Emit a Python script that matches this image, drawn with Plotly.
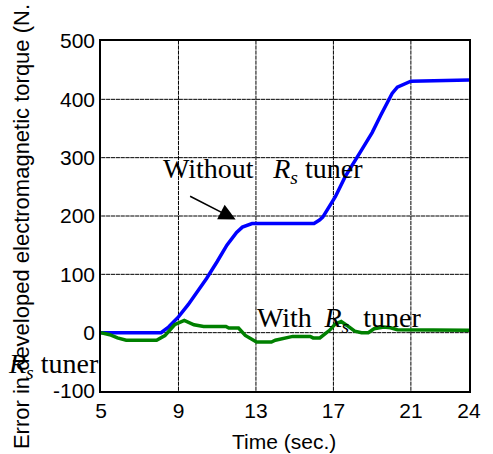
import numpy as np
import plotly.graph_objects as go

# Blue: without Rs tuner
t_without = [5, 8.1, 8.5, 9, 9.5, 10, 10.45, 11, 11.5, 12, 12.3, 12.8, 16.0, 16.28, 16.45, 17.1, 17.6, 18.45, 19.0, 19.45, 20.03, 20.3, 20.6, 21.0, 24]
e_without = [0, 0, 10, 27, 48, 71, 93, 122, 150, 172, 181, 187, 187, 193, 198, 233, 267, 313, 343, 373, 410, 421, 426, 431, 433]

# Green: with Rs tuner
t_with = [5, 5.45, 5.85, 6.3, 7.87, 8.3, 8.8, 9.3, 9.8, 10.3, 11.45, 11.6, 12.1, 12.45, 13.03, 13.8, 14.0, 14.45, 14.9, 15.8, 15.95, 16.3, 16.8, 17.1, 17.4, 17.7, 18.1, 18.45, 18.8, 19.1, 19.6, 19.95, 20.3, 24]
e_with = [0, -3.5, -9, -13, -13, -5, 13.6, 21, 13.6, 10.7, 10.7, 8, 8, -4.7, -16, -16, -13, -10, -6.4, -6.4, -9, -9, 4, 15, 19, 12.4, 2.7, 0, 0, 6.7, 9.5, 8.5, 5, 4]

x_ticks = [5, 9, 13, 17, 21, 24]
y_ticks = [-100, 0, 100, 200, 300, 400, 500]
x_range = [5, 24]
y_range = [-100, 500]

fig = go.Figure()

# dotted grid emulated with short dash markers along the tick positions
x_inner = [v for v in x_ticks if x_range[0] < v < x_range[1]]
y_inner = [v for v in y_ticks if y_range[0] < v < y_range[1]]
ys_along = np.arange(y_range[0] + 4, y_range[1], 8.6)
xs_along = np.arange(x_range[0] + 0.12, x_range[1], 0.25)
vx, vy = [], []
for xv in x_inner:
    vx += [xv] * len(ys_along)
    vy += list(ys_along)
hx, hy = [], []
for yv in y_inner:
    hx += list(xs_along)
    hy += [yv] * len(xs_along)
fig.add_trace(go.Scatter(x=vx, y=vy, mode="markers", hoverinfo="skip", showlegend=False,
                         marker=dict(symbol="line-ns-open", size=3, color="black",
                                     line=dict(color="black", width=1))))
fig.add_trace(go.Scatter(x=hx, y=hy, mode="markers", hoverinfo="skip", showlegend=False,
                         marker=dict(symbol="line-ew-open", size=3, color="black",
                                     line=dict(color="black", width=1))))

fig.add_trace(go.Scatter(x=t_without, y=e_without, mode="lines",
                         line=dict(color="#0000FF", width=3.5), showlegend=False))
fig.add_trace(go.Scatter(x=t_with, y=e_with, mode="lines",
                         line=dict(color="#008000", width=3.5), showlegend=False))

serif = dict(family="Liberation Serif", size=28, color="black")
sans = "Liberation Sans"

axis_common = dict(showgrid=False,
                   showline=True, linecolor="black", linewidth=1.5, mirror=True,
                   zeroline=False, ticks="", tickfont=dict(family=sans, size=21))

fig.update_layout(
    width=493, height=454,
    margin=dict(l=101, r=12, t=41, b=63),
    paper_bgcolor="white", plot_bgcolor="white",
    font=dict(family=sans, size=21, color="black"),
    xaxis=dict(range=x_range, tickvals=x_ticks, ticktext=[str(v) for v in x_ticks], **axis_common),
    yaxis=dict(range=y_range, tickvals=y_ticks, ticktext=[str(v) for v in y_ticks], **axis_common),
)

annotations = [
    dict(x=8.1, y=278, xref="x", yref="y", xanchor="left", yanchor="middle",
         text="Without&nbsp;&nbsp;&#8201;<i>R<sub>s</sub></i>&nbsp;tuner", showarrow=False, font=serif),
    dict(x=11.95, y=194, xref="x", yref="y", ax=-47, ay=-24, text="",
         showarrow=True, arrowhead=2, arrowsize=2.2, arrowwidth=1.5, arrowcolor="black"),
    dict(x=12.95, y=23, xref="x", yref="y", xanchor="left", yanchor="middle",
         text="With&nbsp;&#8201;<i>R<sub>s</sub></i>&nbsp;&nbsp;tuner", showarrow=False, font=serif),
    dict(x=5, y=-56, xref="x", yref="y", xanchor="right", yanchor="middle",
         text="<i>R<sub>s</sub></i> tuner", showarrow=False, font=serif),
    dict(x=-0.2158, y=0.47, xref="paper", yref="paper", xanchor="center", yanchor="middle",
         text="Error in developed electromagnetic torque (N.", textangle=-90,
         showarrow=False, font=dict(family=sans, size=22, color="black")),
    dict(x=0.497, y=-0.145, xref="paper", yref="paper", xanchor="center", yanchor="middle",
         text="Time (sec.)", showarrow=False, font=dict(family=sans, size=21, color="black")),
]
fig.update_layout(annotations=annotations)

fig.write_html("out.html")
